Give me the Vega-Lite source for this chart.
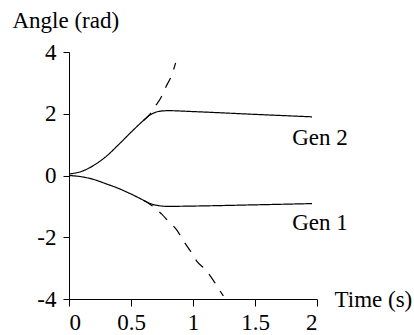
{
  "$schema": "https://vega.github.io/schema/vega-lite/v6.json",
  "width": 248,
  "height": 247,
  "autosize": {"type": "none"},
  "padding": {"left": 69, "top": 52, "right": 97, "bottom": 36},
  "config": {
    "view": {"stroke": null},
    "font": "Liberation Serif",
    "axis": {"grid": false, "domainColor": "black", "tickColor": "black", "labelColor": "black", "titleColor": "black", "labelFont": "Liberation Serif", "titleFont": "Liberation Serif", "labelFontSize": 23, "titleFontSize": 23, "titleFontWeight": "normal", "domainWidth": 1, "tickWidth": 1}
  },
  "datasets": {
    "curves": [
      {"series": "Gen 2", "style": "solid", "t": 0, "a": 0.05},
      {"series": "Gen 2", "style": "solid", "t": 0.1, "a": 0.13},
      {"series": "Gen 2", "style": "solid", "t": 0.2, "a": 0.33},
      {"series": "Gen 2", "style": "solid", "t": 0.3, "a": 0.62},
      {"series": "Gen 2", "style": "solid", "t": 0.4, "a": 1.0},
      {"series": "Gen 2", "style": "solid", "t": 0.5, "a": 1.4},
      {"series": "Gen 2", "style": "solid", "t": 0.6, "a": 1.78},
      {"series": "Gen 2", "style": "solid", "t": 0.65, "a": 1.95},
      {"series": "Gen 2", "style": "solid", "t": 0.7, "a": 2.05},
      {"series": "Gen 2", "style": "solid", "t": 0.75, "a": 2.09},
      {"series": "Gen 2", "style": "solid", "t": 0.8, "a": 2.1},
      {"series": "Gen 2", "style": "solid", "t": 1.0, "a": 2.07},
      {"series": "Gen 2", "style": "solid", "t": 1.5, "a": 1.98},
      {"series": "Gen 2", "style": "solid", "t": 1.96, "a": 1.9},
      {"series": "Gen 1", "style": "solid", "t": 0, "a": 0},
      {"series": "Gen 1", "style": "solid", "t": 0.1, "a": -0.04},
      {"series": "Gen 1", "style": "solid", "t": 0.2, "a": -0.13},
      {"series": "Gen 1", "style": "solid", "t": 0.3, "a": -0.27},
      {"series": "Gen 1", "style": "solid", "t": 0.4, "a": -0.42},
      {"series": "Gen 1", "style": "solid", "t": 0.5, "a": -0.6},
      {"series": "Gen 1", "style": "solid", "t": 0.6, "a": -0.8},
      {"series": "Gen 1", "style": "solid", "t": 0.65, "a": -0.9},
      {"series": "Gen 1", "style": "solid", "t": 0.7, "a": -0.96},
      {"series": "Gen 1", "style": "solid", "t": 0.75, "a": -0.99},
      {"series": "Gen 1", "style": "solid", "t": 0.8, "a": -1.0},
      {"series": "Gen 1", "style": "solid", "t": 1.0, "a": -0.99},
      {"series": "Gen 1", "style": "solid", "t": 1.5, "a": -0.95},
      {"series": "Gen 1", "style": "solid", "t": 1.96, "a": -0.91},
      {"series": "Gen 2 unstable", "style": "dashed", "t": 0.6, "a": 1.78},
      {"series": "Gen 2 unstable", "style": "dashed", "t": 0.65, "a": 1.97},
      {"series": "Gen 2 unstable", "style": "dashed", "t": 0.7, "a": 2.27},
      {"series": "Gen 2 unstable", "style": "dashed", "t": 0.74, "a": 2.51},
      {"series": "Gen 2 unstable", "style": "dashed", "t": 0.78, "a": 2.86},
      {"series": "Gen 2 unstable", "style": "dashed", "t": 0.83, "a": 3.27},
      {"series": "Gen 2 unstable", "style": "dashed", "t": 0.86, "a": 3.65},
      {"series": "Gen 1 unstable", "style": "dashed", "t": 0.6, "a": -0.8},
      {"series": "Gen 1 unstable", "style": "dashed", "t": 0.65, "a": -0.92},
      {"series": "Gen 1 unstable", "style": "dashed", "t": 0.7, "a": -1.08},
      {"series": "Gen 1 unstable", "style": "dashed", "t": 0.75, "a": -1.26},
      {"series": "Gen 1 unstable", "style": "dashed", "t": 0.8, "a": -1.48},
      {"series": "Gen 1 unstable", "style": "dashed", "t": 0.87, "a": -1.77},
      {"series": "Gen 1 unstable", "style": "dashed", "t": 0.92, "a": -2.1},
      {"series": "Gen 1 unstable", "style": "dashed", "t": 0.98, "a": -2.45},
      {"series": "Gen 1 unstable", "style": "dashed", "t": 1.03, "a": -2.77},
      {"series": "Gen 1 unstable", "style": "dashed", "t": 1.1, "a": -3.05},
      {"series": "Gen 1 unstable", "style": "dashed", "t": 1.16, "a": -3.37},
      {"series": "Gen 1 unstable", "style": "dashed", "t": 1.21, "a": -3.69},
      {"series": "Gen 1 unstable", "style": "dashed", "t": 1.245, "a": -3.9}
    ],
    "labels": [
      {"label": "Gen 2", "t": 1.8, "a": 1.0},
      {"label": "Gen 1", "t": 1.8, "a": -1.78}
    ]
  },
  "layer": [
    {
      "data": {"name": "curves"},
      "mark": {"type": "line", "color": "black", "strokeWidth": 1.2, "interpolate": "monotone"},
      "encoding": {
        "x": {
          "field": "t", "type": "quantitative",
          "scale": {"domain": [0, 2], "nice": false, "zero": false},
          "axis": {
            "values": [0, 0.5, 1, 1.5, 2],
            "labelExpr": "'' + datum.value",
            "tickSize": 7, "labelPadding": 5, "labelBaseline": "top",
            "title": "Time (s)", "titleAnchor": "start", "titleAlign": "left", "titleBaseline": "alphabetic",
            "titleX": 265, "titleY": 7
          }
        },
        "y": {
          "field": "a", "type": "quantitative",
          "scale": {"domain": [-4, 4], "nice": false, "zero": false},
          "axis": {
            "values": [-4, -2, 0, 2, 4],
            "labelExpr": "'' + datum.value",
            "tickSize": 6, "labelPadding": 7, "labelBaseline": "middle",
            "title": "Angle (rad)", "titleAngle": 0, "titleAlign": "left", "titleBaseline": "alphabetic",
            "titleX": -57, "titleY": -25
          }
        },
        "detail": {"field": "series"},
        "strokeDash": {
          "field": "style", "type": "nominal",
          "scale": {"domain": ["solid", "dashed"], "range": [[1, 0], [11, 9]]},
          "legend": null
        }
      }
    },
    {
      "data": {"name": "labels"},
      "mark": {"type": "text", "align": "left", "baseline": "alphabetic", "fontSize": 23, "font": "Liberation Serif", "color": "black"},
      "encoding": {
        "x": {"field": "t", "type": "quantitative"},
        "y": {"field": "a", "type": "quantitative"},
        "text": {"field": "label"}
      }
    }
  ]
}
